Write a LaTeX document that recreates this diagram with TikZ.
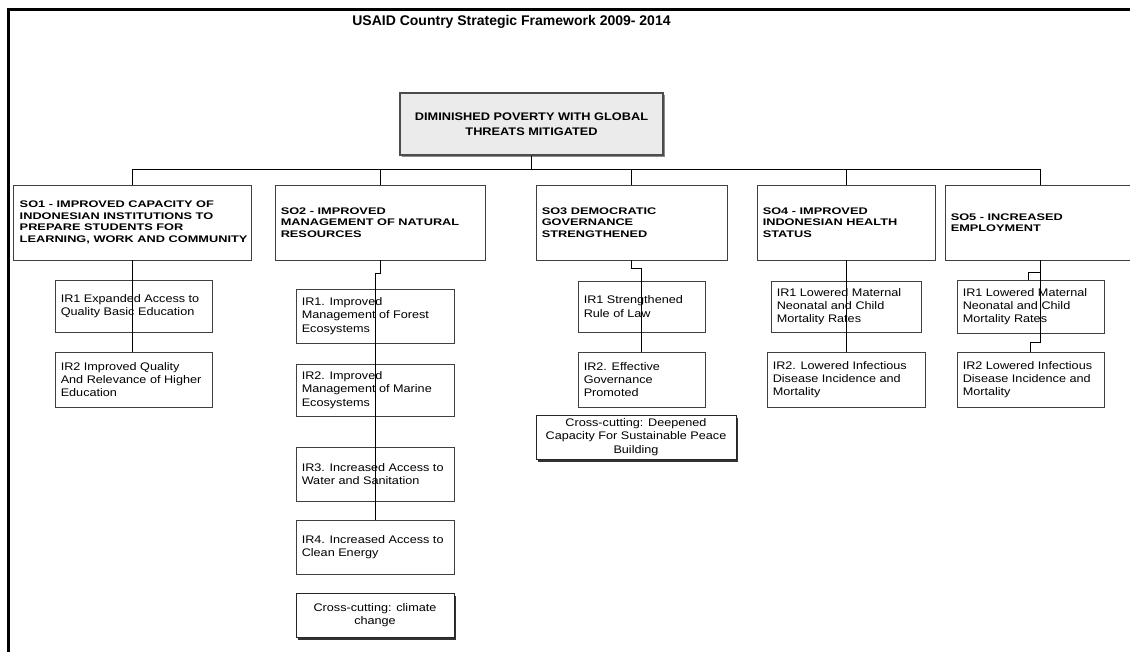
\documentclass[tikz,border=0pt]{standalone}
\usepackage{fontspec}
\setmainfont{Liberation Sans}
\newfontfamily\fTop[FakeStretch=1.16]{Liberation Sans}
\newfontfamily\fSO[FakeStretch=1.33]{Liberation Sans}
\newfontfamily\fIR[FakeStretch=1.15]{Liberation Sans}
\usetikzlibrary{shadows,calc}
\begin{document}
\begin{tikzpicture}[x=1pt,y=-1pt,
  boxframe/.style={draw=black!75, line width=0.9pt, inner sep=0pt},
  sotext/.style={anchor=west, inner sep=0pt, align=left, font=\fSO\bfseries\fontsize{9.6pt}{11.5pt}\selectfont},
  irtext/.style={anchor=west, inner sep=0pt, align=left, font=\fIR\fontsize{11pt}{13.3pt}\selectfont},
  ccbox/.style={draw=black!85, line width=0.9pt, fill=white, align=center, inner sep=0pt,
    font=\fIR\fontsize{11pt}{13.3pt}\selectfont,
    drop shadow={shadow xshift=2pt, shadow yshift=-2.5pt, fill=black!80, opacity=1}},
  topbox/.style={draw=black!70, line width=1.3pt, fill=black!8, align=center, inner sep=0pt,
    font=\fTop\bfseries\fontsize{11pt}{14.5pt}\selectfont,
    drop shadow={shadow xshift=2pt, shadow yshift=-2pt, fill=black!45, opacity=1}},
  conn/.style={draw=black, line width=0.8pt}]
\useasboundingbox (0,0) rectangle (1130,652);
% frame
\draw[line width=3pt, black] (8.5,660) -- (8.5,9.5) -- (1140,9.5);
% title
\node[font=\bfseries\fontsize{14pt}{16pt}\selectfont, anchor=base, inner sep=0pt] (title) at (511.5,26) {USAID Country Strategic Framework 2009- 2014};
% top goal
\node[topbox, minimum width=263pt, minimum height=62pt] (top) at (531.5,124) {DIMINISHED POVERTY WITH GLOBAL\\THREATS MITIGATED};
% SO boxes
\node[boxframe, minimum width=238pt, minimum height=75pt] (so1) at (132,222.5) {};
\node[boxframe, minimum width=210pt, minimum height=75pt] (so2) at (380,222.5) {};
\node[boxframe, minimum width=191pt, minimum height=75pt] (so3) at (631.5,222.5) {};
\node[boxframe, minimum width=178pt, minimum height=75pt] (so4) at (846,222.5) {};
\node[boxframe, minimum width=190pt, minimum height=75pt] (so5) at (1040,222.5) {};
\node[sotext] (so1t) at ([xshift=7pt]so1.west) {SO1 - IMPROVED CAPACITY OF\\INDONESIAN INSTITUTIONS TO\\PREPARE STUDENTS FOR\\LEARNING, WORK AND COMMUNITY};
\node[sotext] (so2t) at ([xshift=6pt]so2.west) {SO2 - IMPROVED\\MANAGEMENT OF NATURAL\\RESOURCES};
\node[sotext] (so3t) at ([xshift=6pt]so3.west) {SO3 DEMOCRATIC\\GOVERNANCE\\STRENGTHENED};
\node[sotext] (so4t) at ([xshift=6pt]so4.west) {SO4 - IMPROVED\\INDONESIAN HEALTH\\STATUS};
\node[sotext] (so5t) at ([xshift=6pt]so5.west) {SO5 - INCREASED\\EMPLOYMENT};
% SO1 IRs
\node[boxframe, minimum width=157pt, minimum height=52pt] (s1i1) at (133.5,306) {};
\node[irtext] (s1i1t) at ([xshift=6pt]s1i1.west) {IR1 Expanded Access to\\Quality Basic Education};
\node[boxframe, minimum width=157pt, minimum height=55pt] (s1i2) at (133.5,379.5) {};
\node[irtext] (s1i2t) at ([xshift=6pt]s1i2.west) {IR2 Improved Quality\\And Relevance of Higher\\Education};
% SO2 IRs
\node[boxframe, minimum width=158pt, minimum height=54pt] (s2i1) at (375,316) {};
\node[irtext] (s2i1t) at ([xshift=6pt]s2i1.west) {IR1. Improved\\Management of Forest\\Ecosystems};
\node[boxframe, minimum width=158pt, minimum height=52pt] (s2i2) at (375,390) {};
\node[irtext] (s2i2t) at ([xshift=6pt]s2i2.west) {IR2. Improved\\Management of Marine\\Ecosystems};
\node[boxframe, minimum width=158pt, minimum height=54pt] (s2i3) at (375,474) {};
\node[irtext] (s2i3t) at ([xshift=6pt]s2i3.west) {IR3. Increased Access to\\Water and Sanitation};
\node[boxframe, minimum width=158pt, minimum height=54pt] (s2i4) at (375,547) {};
\node[irtext] (s2i4t) at ([xshift=6pt]s2i4.west) {IR4. Increased Access to\\Clean Energy};
\node[ccbox, minimum width=158pt, minimum height=44pt] (s2cc) at (375,615) {Cross-cutting: climate\\change};
% SO3 IRs
\node[boxframe, minimum width=127pt, minimum height=51pt] (s3i1) at (641.5,306.5) {};
\node[irtext] (s3i1t) at ([xshift=6pt]s3i1.west) {IR1 Strengthened\\Rule of Law};
\node[boxframe, minimum width=127pt, minimum height=55pt] (s3i2) at (641.5,379.5) {};
\node[irtext] (s3i2t) at ([xshift=6pt]s3i2.west) {IR2. Effective\\Governance\\Promoted};
\node[ccbox, minimum width=200pt, minimum height=44pt] (s3cc) at (636,437) {Cross-cutting: Deepened\\Capacity For Sustainable Peace\\Building};
% SO4 IRs
\node[boxframe, minimum width=150pt, minimum height=51pt] (s4i1) at (846,306.5) {};
\node[irtext] (s4i1t) at ([xshift=6pt]s4i1.west) {IR1 Lowered Maternal\\Neonatal and Child\\Mortality Rates};
\node[boxframe, minimum width=158pt, minimum height=55pt] (s4i2) at (846,379.5) {};
\node[irtext] (s4i2t) at ([xshift=6pt]s4i2.west) {IR2. Lowered Infectious\\Disease Incidence and\\Mortality};
% SO5 IRs
\node[boxframe, minimum width=147pt, minimum height=53pt] (s5i1) at (1030.5,306.5) {};
\node[irtext] (s5i1t) at ([xshift=6pt]s5i1.west) {IR1 Lowered Maternal\\Neonatal and Child\\Mortality Rates};
\node[boxframe, minimum width=147pt, minimum height=55pt] (s5i2) at (1030.5,379.5) {};
\node[irtext] (s5i2t) at ([xshift=6pt]s5i2.west) {IR2 Lowered Infectious\\Disease Incidence and\\Mortality};
% connectors
\coordinate (bar) at (132,169);
\draw[conn] (top.south) -- (top.south |- bar);
\draw[conn] (so1.north) -- (so1.north |- bar) -- (so5.north |- bar) -- (so5.north);
\draw[conn] (so2.north) -- (so2.north |- bar);
\draw[conn] (so3.north) -- (so3.north |- bar);
\draw[conn] (so4.north) -- (so4.north |- bar);
\draw[conn] (so1.south) -- (so1.south |- s1i2.north);
\draw[conn] (so2.south) -- ++(0,13) -| (s2i4.north);
\draw[conn] (so3.south) -- ++(0,8) -| (s3i2.north);
\draw[conn] (so4.south) -- (s4i2.north);
\draw[conn] (so5.south) -- ++(0,82) -| (s5i2.north);
\draw[conn] ([yshift=-12pt]so5.south) -- ++(-12,0) -- ([xshift=-12pt]so5.south |- s5i1.north);
\end{tikzpicture}
\end{document}
